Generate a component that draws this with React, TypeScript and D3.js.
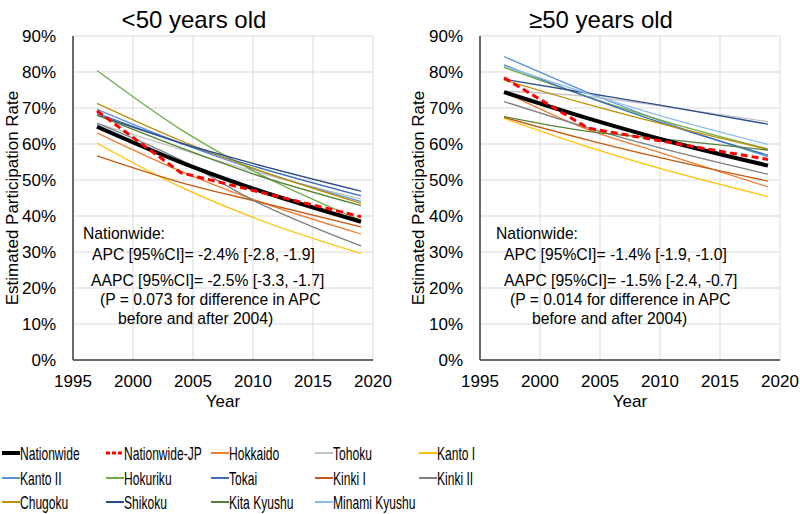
import React from "react";
import * as d3 from "d3";

// at the joinpoint years
const years = [1997, 2004, 2010, 2019];

const seriesNames = [
  "Nationwide", "Nationwide-JP", "Hokkaido", "Tohoku", "Kanto I",
  "Kanto II", "Hokuriku", "Tokai", "Kinki I", "Kinki II",
  "Chugoku", "Shikoku", "Kita Kyushu", "Minami Kyushu",
];

const seriesColors = [
  "#000000", "#FF0000", "#ED7D31", "#C4C4C4", "#FFC000",
  "#5B8FDB", "#70AD47", "#3A6DB5", "#C55A11", "#7F7F7F",
  "#BF9000", "#2B4C8C", "#548235", "#8DBEEB",
];

// <50 years old, % per year in `years`
const under50 = [
  [64.8, 54.9, 47.6, 38.4],
  [69.2, 52.0, 47.1, 39.8],
  [63.1, 52.4, 44.6, 35.0],
  [65.7, 58.5, 52.5, 44.7],
  [60.2, 48.0, 39.6, 29.6],
  [69.6, 60.2, 53.1, 44.0],
  [80.4, 64.0, 52.6, 38.8],
  [68.5, 60.2, 53.9, 45.6],
  [56.7, 49.3, 44.3, 37.0],
  [65.8, 55.5, 44.4, 31.7],
  [71.3, 60.9, 53.3, 43.5],
  [68.0, 60.3, 54.6, 46.9],
  [68.0, 58.9, 51.7, 42.9],
  [65.4, 55.3, 48.0, 38.7],
];

// >=50 years old
const over50 = [
  [74.4, 67.1, 61.4, 54.0],
  [78.4, 64.4, 60.9, 55.7],
  [74.5, 64.0, 57.6, 48.1],
  [74.7, 73.2, 70.6, 66.2],
  [67.1, 59.2, 53.2, 45.4],
  [84.3, 74.3, 66.5, 56.5],
  [81.3, 73.1, 66.7, 58.6],
  [82.0, 73.0, 66.0, 56.9],
  [67.4, 61.1, 56.2, 49.7],
  [71.8, 64.5, 58.9, 51.6],
  [77.8, 71.0, 65.7, 58.5],
  [78.0, 74.1, 70.8, 65.5],
  [67.6, 63.5, 61.5, 58.3],
  [81.7, 74.0, 67.9, 59.9],
];

const xTicks = [1995, 2000, 2005, 2010, 2015, 2020];
const yTicks = [0, 10, 20, 30, 40, 50, 60, 70, 80, 90];

const under50Notes = [
  "Nationwide:",
  "APC [95%CI]= -2.4% [-2.8, -1.9]",
  "AAPC [95%CI]= -2.5% [-3.3, -1.7]",
  "(P = 0.073 for difference in APC",
  "before and after 2004)",
];
const over50Notes = [
  "Nationwide:",
  "APC [95%CI]= -1.4% [-1.9, -1.0]",
  "AAPC [95%CI]= -1.5% [-2.4, -0.7]",
  "(P = 0.014 for difference in APC",
  "before and after 2004)",
];

const font = "'Liberation Sans', Arial, Helvetica, sans-serif";
const top = 36;
const bottom = 360;
const plotW = 300;
const noteY = [239, 260, 286, 305, 324];

function strokeFor(i: number) {
  if (i === 0) return { w: 4, dash: undefined };
  if (i === 1) return { w: 3, dash: "7,4" };
  return { w: 1.3, dash: undefined };
}

function Panel({ left, title, data, notes, noteX, labelX, tickX }: any) {
  const x = d3.scaleLinear().domain([1995, 2020]).range([left, left + plotW]);
  const y = d3.scaleLinear().domain([0, 90]).range([bottom, top]);
  const smooth = d3.line<number>().x((_, i) => x(years[i])).y((d) => y(d)).curve(d3.curveMonotoneX);
  const straight = d3.line<number>().x((_, i) => x(years[i])).y((d) => y(d));
  const order = [...seriesNames.map((_, i) => i).slice(2), 0, 1];

  return (
    <g fontFamily={font}>
      <text x={left + plotW / 2 - 29} y={28} fontSize={24} textAnchor="middle">{title}</text>
      {yTicks.map((t) => (
        <g key={"y" + t}>
          <line x1={left} x2={left + plotW} y1={y(t)} y2={y(t)} stroke="#D9D9D9" strokeWidth={1} />
          <text x={tickX} y={y(t) + 6} fontSize={17} textAnchor="end">{t + "%"}</text>
        </g>
      ))}
      {xTicks.map((t) => (
        <g key={"x" + t}>
          <line x1={x(t)} x2={x(t)} y1={top} y2={bottom} stroke="#D9D9D9" strokeWidth={1} />
          <text x={x(t)} y={387} fontSize={17} textAnchor="middle">{t}</text>
        </g>
      ))}
      <line x1={left} x2={left} y1={top} y2={bottom} stroke="#404040" strokeWidth={1.5} />
      <line x1={left} x2={left + plotW} y1={bottom} y2={bottom} stroke="#404040" strokeWidth={1.5} />
      <text x={left + plotW / 2} y={407} fontSize={17} textAnchor="middle">Year</text>
      <text
        transform={`translate(${labelX},${(top + bottom) / 2}) rotate(-90)`}
        fontSize={17}
        textAnchor="middle"
      >
        Estimated Participation Rate
      </text>
      {order.map((i) => {
        const s = strokeFor(i);
        return (
          <path
            key={seriesNames[i]}
            d={(i === 1 ? straight : smooth)(data[i]) as string}
            fill="none"
            stroke={seriesColors[i]}
            strokeWidth={s.w}
            strokeDasharray={s.dash}
          />
        );
      })}
      {notes.map((n: string, i: number) => (
        <text key={i} x={noteX[i]} y={noteY[i]} fontSize={15.7}>{n}</text>
      ))}
    </g>
  );
}

function Legend() {
  const colX = [2, 106, 211, 315, 419];
  const rowY = [453, 478, 502];
  return (
    <g fontFamily={font}>
      {seriesNames.map((name, i) => {
        const cx = colX[i % 5];
        const cy = rowY[Math.floor(i / 5)];
        const s = strokeFor(i);
        return (
          <g key={name}>
            <line
              x1={cx}
              x2={cx + 18}
              y1={cy}
              y2={cy}
              stroke={seriesColors[i]}
              strokeWidth={i < 2 ? s.w : 2}
              strokeDasharray={i === 1 ? "4,2" : undefined}
            />
            <text transform={`translate(${cx + 18},${cy + 6.5}) scale(0.69,1)`} fontSize={17.5}>
              {name}
            </text>
          </g>
        );
      })}
    </g>
  );
}

export default function App() {
  return (
    <svg
      width={800}
      height={514}
      style={{ position: "absolute", left: 0, top: 0, background: "#fff" }}
    >
      <Panel
        left={73}
        title="<50 years old"
        data={under50}
        notes={under50Notes}
        noteX={[83, 92, 91, 100, 118]}
        labelX={18}
        tickX={56}
      />
      <Panel
        left={480}
        title="≥50 years old"
        data={over50}
        notes={over50Notes}
        noteX={[496, 504, 504, 510, 532]}
        labelX={424}
        tickX={463}
      />
      <Legend />
    </svg>
  );
}
